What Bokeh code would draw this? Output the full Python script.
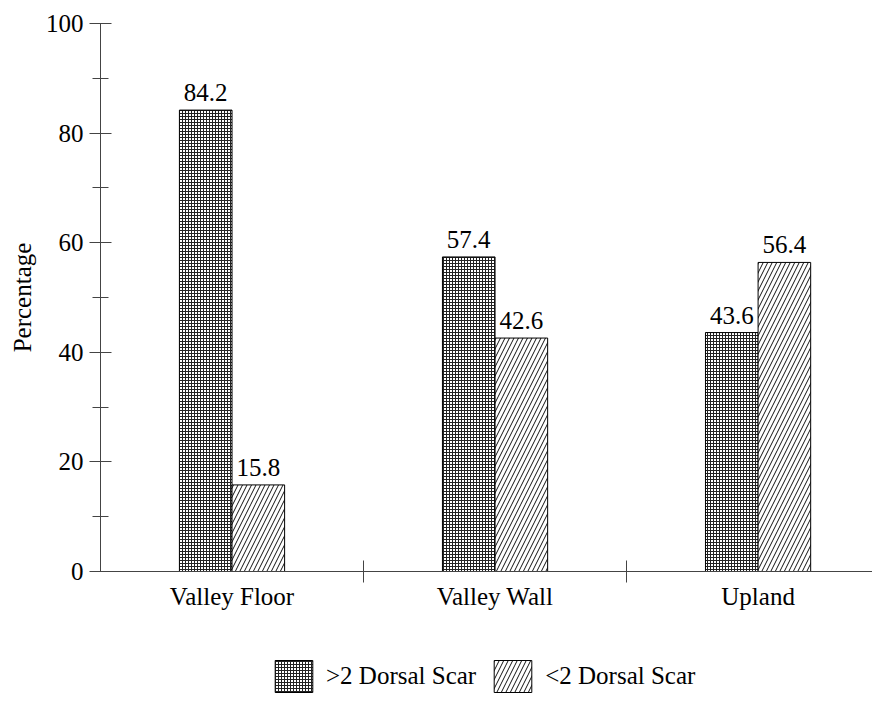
from bokeh.plotting import figure
from bokeh.layouts import column
from bokeh.models import (ColumnDataSource, Range1d, FixedTicker, Legend, LegendItem)
from bokeh.transform import dodge
from bokeh.core.properties import value
from bokeh.embed import file_html
from bokeh.resources import INLINE

categories = ["Valley Floor", "Valley Wall", "Upland"]
gt2 = [84.2, 57.4, 43.6]
lt2 = [15.8, 42.6, 56.4]
series_names = [">2 Dorsal Scar", "<2 Dorsal Scar"]
y_ticks = [0, 20, 40, 60, 80, 100]
y_minor = [10, 30, 50, 70, 90]

FONT = "Liberation Serif"
FS = "25px"

DARK = dict(fill_color="white", line_color="black", line_width=1,
            hatch_pattern="+", hatch_scale=3, hatch_weight=1, hatch_color="#222222")
DIAG = dict(fill_color="white", line_color="black", line_width=1,
            hatch_pattern="/", hatch_scale=9, hatch_weight=1, hatch_color="#111111")

xc = [i + 0.5 for i in range(len(categories))]
src = ColumnDataSource(dict(x=xc, gt2=gt2, lt2=lt2,
                            gt2_lbl=[f"{v:.1f}" for v in gt2],
                            lt2_lbl=[f"{v:.1f}" for v in lt2]))

LEFT = 100
p = figure(width=872, height=628, output_backend="svg", toolbar_location=None,
           x_range=Range1d(0, 2.935), y_range=Range1d(0, 100),
           min_border_left=LEFT, min_border_right=0, min_border_top=23,
           min_border_bottom=57)
p.outline_line_color = None
p.grid.visible = False

p.vbar(x=dodge("x", -0.1, range=p.x_range), top="gt2", width=0.2, source=src, **DARK)
p.vbar(x=dodge("x", 0.1, range=p.x_range), top="lt2", width=0.2, source=src, **DIAG)

for col, off in (("gt2", -0.1), ("lt2", 0.1)):
    p.text(x=dodge("x", off, range=p.x_range), y=col, text=col + "_lbl", source=src,
           text_align="center", text_baseline="bottom", y_offset=-9,
           text_font=value(FONT), text_font_size=FS, text_color="black")

xa = p.xaxis[0]
xa.ticker = FixedTicker(ticks=xc, minor_ticks=[1, 2])
xa.major_label_overrides = {xc[i]: categories[i] for i in range(len(categories))}
xa.major_tick_in = 0
xa.major_tick_out = 0
xa.minor_tick_in = 11
xa.minor_tick_out = 11
xa.major_label_standoff = 0
xa.axis_line_color = "#444444"
xa.minor_tick_line_color = "#444444"
xa.major_label_text_font = FONT
xa.major_label_text_font_size = FS
xa.major_label_text_color = "black"

ya = p.yaxis[0]
ya.ticker = FixedTicker(ticks=y_ticks, minor_ticks=y_minor)
ya.major_tick_in = 11
ya.major_tick_out = 11
ya.minor_tick_in = 8
ya.minor_tick_out = 8
ya.major_label_standoff = 6
ya.axis_line_color = "#444444"
ya.major_tick_line_color = "#444444"
ya.minor_tick_line_color = "#444444"
ya.major_label_text_font = FONT
ya.major_label_text_font_size = FS
ya.major_label_text_color = "black"
ya.axis_label = "Percentage"
ya.axis_label_text_font = FONT
ya.axis_label_text_font_size = FS
ya.axis_label_text_font_style = "normal"
ya.axis_label_text_color = "black"
ya.axis_label_standoff = 7

# legend strip below the chart; its bars lie outside the visible ranges
lg = figure(width=872, height=69, output_backend="svg", toolbar_location=None,
            x_range=Range1d(10, 11), y_range=Range1d(200, 300),
            x_axis_location=None, y_axis_location=None,
            min_border_left=LEFT, min_border_right=0, min_border_top=0, min_border_bottom=0)
lg.outline_line_color = None
lg.grid.visible = False
l1 = lg.vbar(x="x", top="gt2", width=0.2, source=src, **DARK)
l2 = lg.vbar(x="x", top="lt2", width=0.2, source=src, **DIAG)
legend = Legend(items=[LegendItem(label=series_names[0], renderers=[l1]),
                       LegendItem(label=series_names[1], renderers=[l2])],
                orientation="horizontal", location=(170, 1),
                glyph_width=47, glyph_height=40, label_standoff=9, spacing=13,
                label_text_font=FONT, label_text_font_size=FS, label_text_color="black",
                border_line_color=None, background_fill_alpha=0,
                margin=0, padding=0, label_height=40)
lg.add_layout(legend, "center")

layout = column(p, lg, spacing=0)
open("out.html", "w").write(file_html(layout, INLINE))
